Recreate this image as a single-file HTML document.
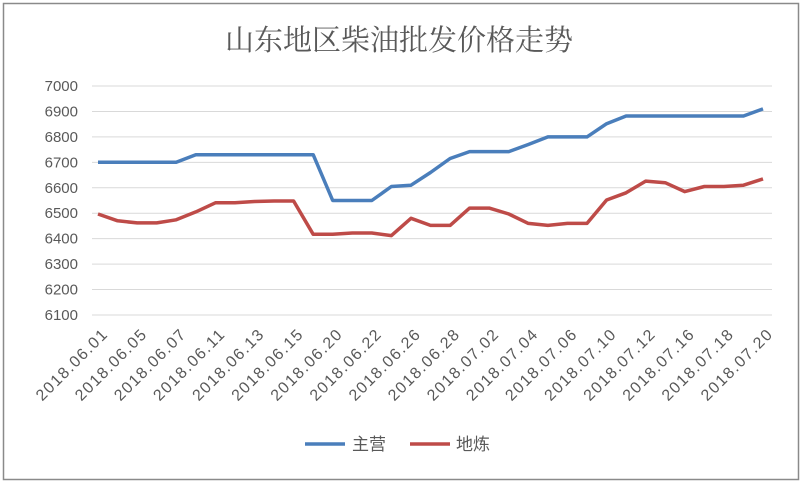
<!DOCTYPE html>
<html><head><meta charset="utf-8"><style>
body{margin:0;background:#fff;}
svg{display:block;font-family:"Liberation Sans","Noto Sans CJK SC",sans-serif;}
</style></head><body>
<svg width="806" height="491" viewBox="0 0 806 491" xmlns="http://www.w3.org/2000/svg">
<rect x="0" y="0" width="806" height="491" fill="#fff"/>
<rect x="3.5" y="3.5" width="795" height="476" fill="none" stroke="#8a8a8a" stroke-width="1.5"/>
<text x="399" y="50" text-anchor="middle" font-family="'Noto Serif CJK SC','Noto Sans CJK SC',serif" font-size="29" fill="#595959">山东地区柴油批发价格走势</text>
<g id="grid" stroke="#d9d9d9" stroke-width="1"></g>
<g id="ylab" font-size="15" fill="#595959" text-anchor="end"></g>
<g id="xlab" font-size="16" fill="#595959" text-anchor="end"></g>
<polyline id="b" fill="none" stroke="#4a7ebb" stroke-width="3.5" stroke-linejoin="round"/>
<polyline id="r" fill="none" stroke="#be4b48" stroke-width="3.5" stroke-linejoin="round"/>
<line x1="305" y1="444" x2="345" y2="444" stroke="#4a7ebb" stroke-width="3.5"/>
<text x="352" y="450" font-size="17" fill="#595959">主营</text>
<line x1="410" y1="444" x2="450" y2="444" stroke="#be4b48" stroke-width="3.5"/>
<text x="456" y="450" font-size="17" fill="#595959">地炼</text>
</svg>
<script>
var ns="http://www.w3.org/2000/svg";
function Y(v){return 86+(7000-v)*0.2544;}
function X(i){return 98+i*19.56;}
var g=document.getElementById('grid'),yl=document.getElementById('ylab'),xl=document.getElementById('xlab');
for(var v=6100;v<=7000;v+=100){var l=document.createElementNS(ns,'line');l.setAttribute('x1',92);l.setAttribute('x2',772);l.setAttribute('y1',Y(v));l.setAttribute('y2',Y(v));g.appendChild(l);
var t=document.createElementNS(ns,'text');t.setAttribute('x',78);t.setAttribute('y',Y(v)+5);t.textContent=v;yl.appendChild(t);}
var blue=[6700,6700,6700,6700,6700,6730,6730,6730,6730,6730,6730,6730,6550,6550,6550,6605,6610,6660,6715,6742,6742,6742,6770,6800,6800,6800,6852,6882,6882,6882,6882,6882,6882,6882,6910];
var red=[6497,6470,6462,6462,6474,6505,6541,6541,6546,6548,6548,6417,6417,6422,6422,6412,6480,6452,6452,6520,6520,6497,6460,6452,6460,6460,6552,6580,6626,6620,6585,6605,6605,6610,6635];
function pts(a){return a.map(function(v,i){return X(i).toFixed(1)+','+Y(v).toFixed(1)}).join(' ');}
document.getElementById('b').setAttribute('points',pts(blue));
document.getElementById('r').setAttribute('points',pts(red));
var labs=["2018.06.01","2018.06.05","2018.06.07","2018.06.11","2018.06.13","2018.06.15","2018.06.20","2018.06.22","2018.06.26","2018.06.28","2018.07.02","2018.07.04","2018.07.06","2018.07.10","2018.07.12","2018.07.16","2018.07.18","2018.07.20"];
labs.forEach(function(s,k){var x=X(2*k)+10,y=336;var t=document.createElementNS(ns,'text');t.setAttribute('x',x);t.setAttribute('y',y);t.setAttribute('textLength','93');t.setAttribute('lengthAdjust','spacing');t.setAttribute('transform','rotate(-45 '+x+' '+y+')');t.textContent=s;xl.appendChild(t);});
</script>
</body></html>
